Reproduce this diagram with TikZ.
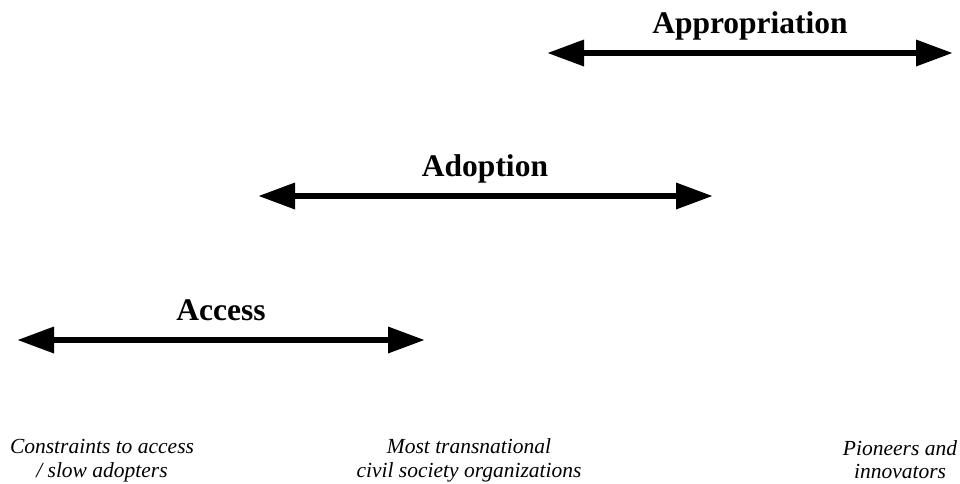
\documentclass[tikz,border=0pt]{standalone}
\usepackage{fontspec}
\setmainfont{Liberation Serif}
\usetikzlibrary{arrows.meta}
\begin{document}
\begin{tikzpicture}[x=1pt,y=-1pt,
  stagearrow/.style={line width=6.5pt,{Triangle[length=37pt,width=25pt]}-{Triangle[length=37pt,width=25pt]}},
  stagelabel/.style={font=\fontsize{31.5}{34}\selectfont\bfseries,inner sep=0pt,anchor=base},
  grouplabel/.style={font=\fontsize{21.5}{24}\selectfont\itshape,inner sep=0pt,anchor=base}]
\useasboundingbox (0,0) rectangle (960,483);
\node[stagelabel] (appr) at (750,33) {Appropriation};
\coordinate (apL) at (547,53);
\coordinate (apR) at (953,53);
\draw[stagearrow] (apL) -- (apR);
\node[stagelabel] (adop) at (485,176) {Adoption};
\coordinate (adL) at (258,196);
\coordinate (adR) at (713,196);
\draw[stagearrow] (adL) -- (adR);
\node[stagelabel] (acc) at (221,320) {Access};
\coordinate (acL) at (17,340);
\coordinate (acR) at (425,340);
\draw[stagearrow] (acL) -- (acR);
\node[grouplabel] (slowA) at (102,453) {Constraints to access};
\node[grouplabel] (slowB) at (102,477) {/ slow adopters};
\node[grouplabel] (mostA) at (469,453) {Most transnational};
\node[grouplabel] (mostB) at (469,477) {civil society organizations};
\node[grouplabel] (pionA) at (900,455) {Pioneers and};
\node[grouplabel] (pionB) at (900,478) {innovators};
\end{tikzpicture}
\end{document}
